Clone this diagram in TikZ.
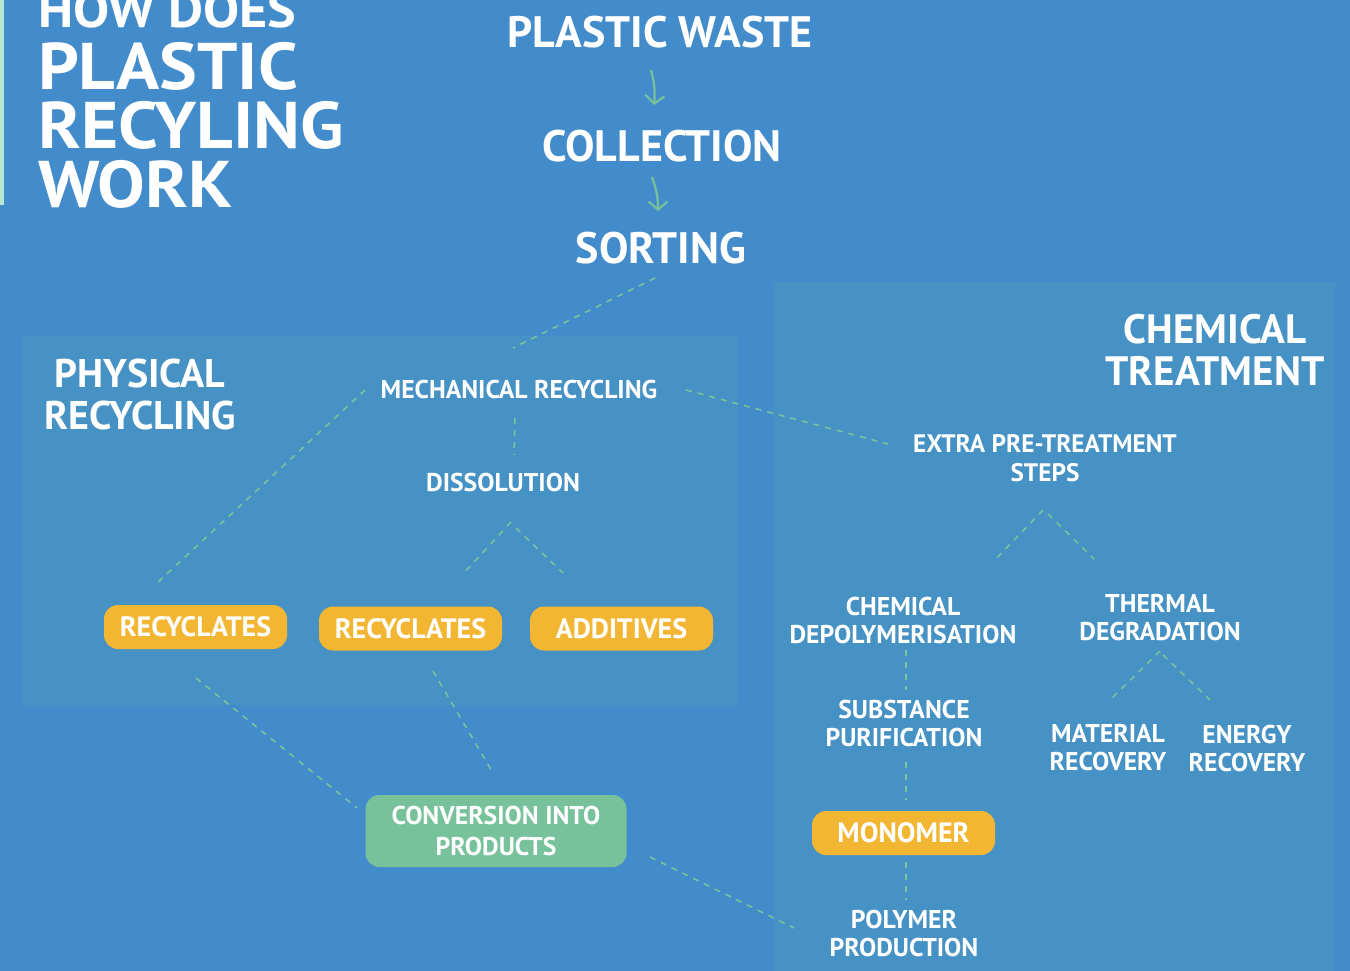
\documentclass[tikz,border=0pt]{standalone}
\usepackage{fontspec}
\setmainfont{PT Sans}
\newfontfamily\widefont{PT Sans}[FakeStretch=1.08]
\usetikzlibrary{arrows.meta}
\definecolor{bgblue}{HTML}{438CCB}
\definecolor{panelblue}{HTML}{4792C4}
\definecolor{amber}{HTML}{F2B632}
\definecolor{mint}{HTML}{77C29B}
\definecolor{dashgreen}{HTML}{7CC49A}
\definecolor{barmint}{HTML}{B8E6CF}
\begin{document}
\begin{tikzpicture}[x=1pt,y=-1pt,
    every node/.style={text=white,inner sep=0pt,align=center},
    lbl/.style={font=\bfseries\fontsize{25.7}{28}\selectfont},
    head/.style={font=\bfseries\fontsize{44}{48}\selectfont},
    area/.style={font=\bfseries\fontsize{40}{41.5}\selectfont},
    pill/.style={fill=amber,rounded corners=14pt,minimum width=183pt,minimum height=44pt,font=\bfseries\fontsize{28}{30}\selectfont},
    link/.style={draw=dashgreen,line width=1.5pt,dash pattern=on 6pt off 6pt},
    flow/.style={draw=mint,line width=2.2pt,-{Straight Barb[length=8pt,width=19pt]}},
  ]
\fill[bgblue] (0,0) rectangle (1350,971);
\useasboundingbox (0,0) rectangle (1350,971);
\fill[barmint] (0,0) rectangle (4,205);
\fill[panelblue] (23,336) rectangle (737,705);
\fill[panelblue] (773,282) rectangle (1335,971);

% title
\node[anchor=base west,font=\widefont\bfseries\fontsize{50}{60}\selectfont] (how) at (38,28) {HOW DOES};
\node[anchor=north west,align=left,font=\widefont\bfseries\fontsize{66}{59}\selectfont] (title) at (38,42) {PLASTIC\\RECYLING\\WORK};

% main flow
\node[head] (waste) at (660,32.5) {PLASTIC WASTE};
\node[head] (coll) at (662,146) {COLLECTION};
\node[head] (sort) at (661,248) {SORTING};
\draw[flow] ([shift={(-9,37.5)}]waste.center) to[bend left=10] ([shift={(-8,-41)}]coll.center);
\draw[flow] ([shift={(-10,31)}]coll.center) to[bend left=10] ([shift={(-3,-37)}]sort.center);

% physical recycling
\node[area] (phys) at (140,394.5) {PHYSICAL\\RECYCLING};
\node[lbl] (mech) at (519,390) {MECHANICAL RECYCLING};
\node[lbl] (diss) at (503,483) {DISSOLUTION};
\node[pill] (rec1) at (195.5,627) {RECYCLATES};
\node[pill] (rec2) at (410.5,628.5) {RECYCLATES};
\node[pill] (add) at (621.5,628.5) {ADDITIVES};
\node[lbl,font=\bfseries\fontsize{25.7}{31}\selectfont,fill=mint,rounded corners=14pt,minimum width=261pt,minimum height=72pt] (conv) at (496,831) {CONVERSION INTO\\PRODUCTS};

% chemical treatment
\node[area,font=\bfseries\fontsize{41}{42}\selectfont] (chem) at (1215,349.5) {CHEMICAL\\TREATMENT};
\node[lbl,font=\bfseries\fontsize{25.3}{29}\selectfont] (extra) at (1045,458.5) {EXTRA PRE-TREATMENT\\STEPS};
\node[lbl] (depol) at (903,621) {CHEMICAL\\DEPOLYMERISATION};
\node[lbl] (therm) at (1160,618) {THERMAL\\DEGRADATION};
\node[lbl] (purif) at (904,723) {SUBSTANCE\\PURIFICATION};
\node[pill] (mono) at (903.5,833) {MONOMER};
\node[lbl] (poly) at (904,933) {POLYMER\\PRODUCTION};
\node[lbl] (matrec) at (1108,748) {MATERIAL\\RECOVERY};
\node[lbl] (enrec) at (1247,748) {ENERGY\\RECOVERY};

% dashed links
\draw[link] ([shift={(-6,30)}]sort.center) -- ([shift={(-6,-42)}]mech.center);
\draw[link] ([shift={(-154,0)}]mech.center) -- ([shift={(-38.5,-44)}]rec1.center);
\draw[link] ([shift={(-4,28)}]mech.center) -- ([shift={(11,-28)}]diss.center);
\draw[link] ([shift={(8,39)}]diss.center) -- ([shift={(51.5,-53.5)}]rec2.center);
\draw[link] ([shift={(13,45)}]diss.center) -- ([shift={(-58.5,-55.5)}]add.center);
\draw[link] ([shift={(167,0)}]mech.center) -- ([shift={(-157,-14.5)}]extra.center);
\draw[link] ([shift={(0.5,51)}]rec1.center) -- ([shift={(-139,-23)}]conv.center);
\draw[link] ([shift={(22.5,42.5)}]rec2.center) -- ([shift={(-3,-58)}]conv.center);
\draw[link] ([shift={(154,26)}]conv.center) -- ([shift={(-110,-5)}]poly.center);
\draw[link] ([shift={(-2,51.5)}]extra.center) -- ([shift={(91,-60)}]depol.center);
\draw[link] ([shift={(3,55.5)}]extra.center) -- ([shift={(-66,-59)}]therm.center);
\draw[link] ([shift={(3,29)}]depol.center) -- ([shift={(2,-33)}]purif.center);
\draw[link] ([shift={(2,39)}]purif.center) -- ([shift={(2.5,-33)}]mono.center);
\draw[link] ([shift={(2.5,29)}]mono.center) -- ([shift={(2,-33)}]poly.center);
\draw[link] ([shift={(0,33)}]therm.center) -- ([shift={(2,-48)}]matrec.center);
\draw[link] ([shift={(3,37)}]therm.center) -- ([shift={(-37,-48)}]enrec.center);
\end{tikzpicture}
\end{document}
